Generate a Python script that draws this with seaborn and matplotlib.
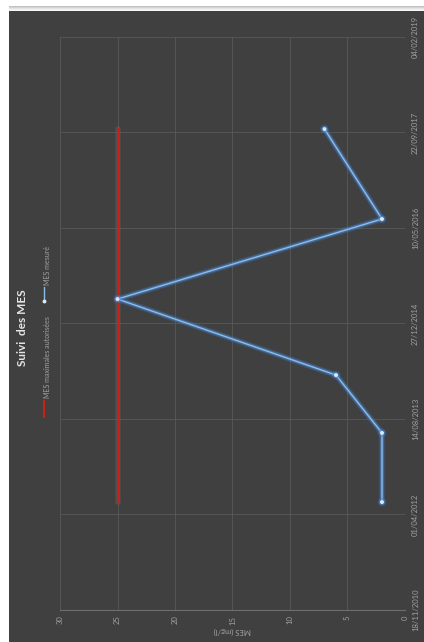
import matplotlib
matplotlib.use("Agg")
import matplotlib.pyplot as plt
import matplotlib.dates as mdates
import matplotlib.patheffects as pe
from matplotlib.patches import Rectangle
from matplotlib.lines import Line2D
import pandas as pd
import seaborn as sns

# Survey data: suspended solids (MES) measured vs. authorised maximum
dates = ["2012-06-05", "2013-06-02", "2014-04-01", "2015-05-04", "2016-06-26", "2017-10-10"]
mes_mesure = [2, 2, 6, 25, 2, 7]
mes_max = [25, 25, 25, 25, 25, 25]
value_ticks = [0, 5, 10, 15, 20, 25, 30]
date_ticks = ["2010-11-18", "2012-04-01", "2013-08-14", "2014-12-27",
              "2016-05-10", "2017-09-22", "2019-02-04"]

title = "Suivi  des MES"
label_max = "MES maximales autorisées"
label_mes = "MES mesuré"
value_label = "MES (mg/l)"

df = pd.DataFrame({
    "date": pd.to_datetime(dates),
    "mesure": mes_mesure,
    "max": mes_max,
})
tick_dates = pd.to_datetime(date_ticks)

sns.set_theme(style="dark")
plt.rcParams["font.family"] = ["Lato", "DejaVu Sans"]

BG = "#404040"
GRID = "#585858"
TXT = "#a0a0a0"
RED = "#c8201a"
BLUE = "#8cbdea"

fig = plt.figure(figsize=(4.24, 6.42), dpi=100, facecolor="white")
W, H = 424, 642

# dark panel and top shadow, kept behind the axes
fig.patches.append(Rectangle((9 / W, 0), 1, (H - 11) / H, transform=fig.transFigure,
                             facecolor=BG, edgecolor="none", zorder=-2))
for i, a in enumerate([0.05, 0.1, 0.18, 0.28, 0.4]):
    fig.patches.append(Rectangle((9 / W, (H - 11 + i) / H), 1, 1 / H,
                                 transform=fig.transFigure, facecolor="black",
                                 alpha=a * 0.6, edgecolor="none", zorder=-2))

ax = fig.add_axes([60 / W, (H - 610) / H, (405 - 60) / W, (610 - 37) / H])
ax.set_facecolor(BG)

glow_red = [pe.Stroke(linewidth=4, foreground="#8a8a8a", alpha=0.2), pe.Normal()]
glow_blue = [pe.Stroke(linewidth=4.5, foreground="#3d7fd0", alpha=0.22),
             pe.Stroke(linewidth=2.8, foreground="#4f8fdc", alpha=0.45),
             pe.Normal()]

sns.lineplot(data=df, x="max", y="date", orient="y", sort=False, estimator=None,
             ax=ax, color=RED, linewidth=2.2, legend=False, zorder=3,
             path_effects=glow_red)
sns.lineplot(data=df, x="mesure", y="date", orient="y", sort=False, estimator=None,
             ax=ax, color=BLUE, linewidth=1.0, legend=False, zorder=4,
             marker="o", markersize=2.0, markerfacecolor="#dceaf8",
             markeredgecolor="#dceaf8", path_effects=glow_blue)

ax.set_xlim(30, 0)
ax.set_ylim(tick_dates[0], tick_dates[-1])
ax.set_xticks(value_ticks)
ax.set_xticklabels([str(v) for v in value_ticks], rotation=90)
ax.set_yticks(tick_dates)
ax.yaxis.set_major_formatter(mdates.DateFormatter("%d/%m/%Y"))
ax.yaxis.tick_right()
for lab in ax.get_yticklabels():
    lab.set_rotation(90)
    lab.set_va("center")
ax.tick_params(axis="both", length=0, colors=TXT, labelsize=5.5)
ax.tick_params(axis="x", pad=4)
ax.tick_params(axis="y", pad=5)
ax.grid(True, color=GRID, linewidth=0.6)
for side in ["top", "left", "right"]:
    ax.spines[side].set_visible(False)
ax.spines["bottom"].set_color("#6e6e6e")
ax.spines["bottom"].set_linewidth(0.8)
ax.set_xlabel(value_label, rotation=180, color=TXT, fontsize=5.5, labelpad=2)
ax.set_ylabel("")

# title and legend, drawn sideways
fig.text(23 / W, 1 - 328 / H, title, rotation=90, color="#e6e6e6", fontsize=8.5,
         fontweight="bold", ha="center", va="center")
fig.add_artist(Line2D([44 / W, 44 / W], [1 - 417 / H, 1 - 401 / H],
                      transform=fig.transFigure, color=RED, linewidth=1.6))
fig.text(48 / W, 1 - 398 / H, label_max, rotation=90, color=TXT, fontsize=5,
         ha="center", va="bottom")
fig.add_artist(Line2D([44 / W, 44 / W], [1 - 301 / H, 1 - 287 / H],
                      transform=fig.transFigure, color=BLUE, linewidth=1.0,
                      marker="o", markersize=1.8, markevery=[0],
                      markerfacecolor="#dceaf8", markeredgecolor="#dceaf8"))
fig.text(48 / W, 1 - 285 / H, label_mes, rotation=90, color=TXT, fontsize=5,
         ha="center", va="bottom")

fig.savefig("out.png", dpi=100, facecolor="white")
